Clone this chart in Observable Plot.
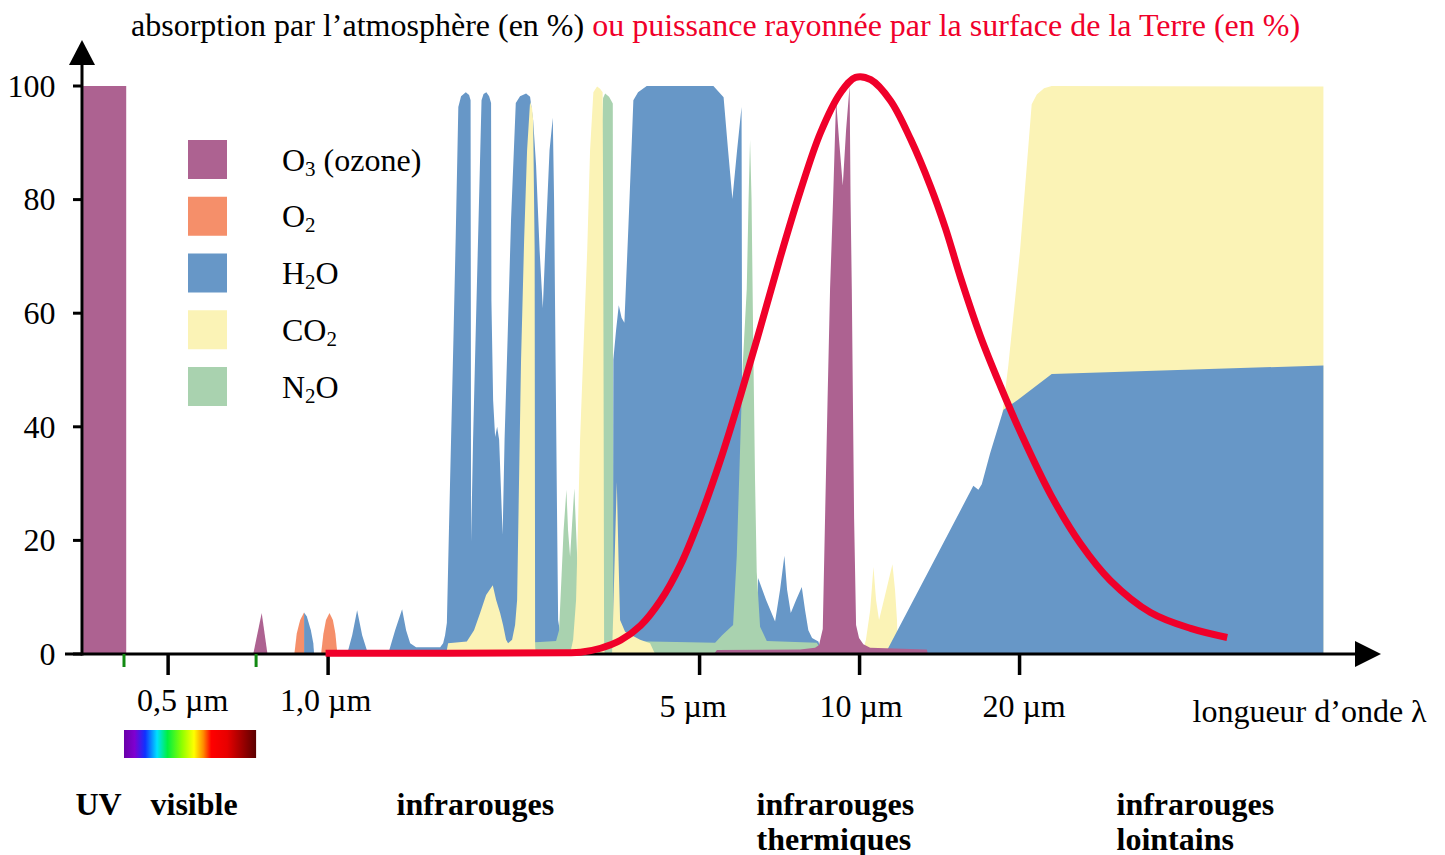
<!DOCTYPE html>
<html><head><meta charset="utf-8">
<script src="https://cdn.jsdelivr.net/npm/d3@7"></script>
<script src="https://cdn.jsdelivr.net/npm/@observablehq/plot@0.6"></script>
<style>html,body{margin:0;padding:0;background:#fff;} svg{display:block;}</style>
</head><body><div id="chart"></div>
<script>
// ---------- data (wavelength in µm, absorption / emitted power in %) ----------
const gasKeys = ["O3", "O2", "H2O", "CO2", "N2O"];
const gasLabels = ["O₃ (ozone)", "O₂", "H₂O", "CO₂", "N₂O"];
const gasColors = ["#ad6291", "#f58f6a", "#6797c7", "#fbf3b6", "#a9d2af"];

const yTickValues = [0, 20, 40, 60, 80, 100];
const xTickValues = [0.5, 1, 5, 10, 20];
const xTickLabels = ["0,5 µm", "1,0 µm", "5 µm", "10 µm", "20 µm"];
const visibleRange = [0.413, 0.732];
const regionLabels = ["UV", "visible", "infrarouges", "infrarouges\nthermiques", "infrarouges\nlointains"];
const titleParts = ["absorption par l’atmosphère (en %) ", "ou puissance rayonnée par la surface de la Terre (en %)"];
const axisLabel = "longueur d’onde λ";

const o3UV = [[0.346,100],[0.417,100]];
const o3Vis = [[0.723,0],[0.750,7.2],[0.769,0]];
const o3Band96 = [[5.324,0],[5.39,0.7],[7.727,0.8],[8.246,1.1],[8.390,1.6],[8.526,4.4],[8.611,23.9],[8.705,44.7],[8.800,64.3],[8.915,79.9],[9.032,97.5],[9.150,90.5],[9.298,82.5],[9.433,92.3],[9.577,100],[9.618,79.9],[9.669,64.3],[9.724,41.2],[9.766,23.9],[9.849,5.1],[9.977,2.8],[10.165,1.7],[10.47,1.1],[13.38,0.8],[13.45,0]];
const o2Band069 = [[0.864,0],[0.873,3.6],[0.886,6.0],[0.901,7.3]];
const o2Band076 = [[0.970,0],[0.980,3.6],[0.991,6.0],[1.006,7.2],[1.021,6.0],[1.032,3.6],[1.041,0]];
const h2oVis = [[0.901,7.3],[0.912,6.6],[0.928,4.2],[0.938,1.9],[0.941,0]];
const h2oBand11 = [[1.086,0],[1.110,3.3],[1.134,7.7],[1.159,3.3],[1.189,0]];
const h2oBandNIR = [[1.297,0],[1.337,4.2],[1.378,7.9],[1.402,4.2],[1.427,1.9],[1.464,1.2],[1.625,1.2],[1.646,1.9],[1.660,3.3],[1.673,5.5],[1.689,22.9],[1.704,38.2],[1.721,55.3],[1.738,73.2],[1.758,96.3],[1.779,98.2],[1.816,98.9],[1.842,98.4],[1.854,97.5],[1.856,62.3],[1.858,19.7],[1.874,37.7],[1.894,55.3],[1.919,76.4],[1.944,97.5],[1.961,98.6],[1.985,98.9],[2.009,98.2],[2.026,97.0],[2.029,62.3],[2.044,44.7],[2.062,38.2],[2.080,40.0],[2.098,37.7],[2.130,21.0],[2.148,37.7],[2.176,55.3],[2.209,76.4],[2.255,97.0],[2.297,98.2],[2.358,98.7],[2.399,98.1],[2.431,94.0],[2.462,86.1],[2.500,71.1],[2.535,60.9],[2.571,74.6],[2.610,88.7],[2.647,94.4],[2.662,79.9],[2.679,51.8],[2.697,23.6],[2.709,6.0],[2.732,3.7],[2.768,2.5],[2.804,0]];
const h2oBand6 = [[3.430,0],[3.437,27.1],[3.441,51.8],[3.482,57.0],[3.523,61.4],[3.566,59.2],[3.610,58.3],[3.673,75.2],[3.727,90.0],[3.753,97.5],[3.830,98.9],[3.977,100],[5.308,100],[5.548,98.0],[5.657,88.7],[5.764,80.1],[5.882,88.7],[5.997,96.3],[6.010,51.8],[6.023,16.5],[6.036,2.5],[6.063,0]];
const h2oBand8 = [[6.413,0],[6.442,13.4],[6.670,9.5],[6.935,5.7],[7.086,11.3],[7.220,17.3],[7.305,11.3],[7.423,7.2],[7.595,9.5],[7.785,11.8],[7.897,7.7],[8.010,4.2],[8.140,2.8],[8.365,2.2],[8.500,0]];
const h2oFarIR = [[11.17,0],[16.37,29.6],[16.73,28.9],[16.98,29.9],[17.60,35.3],[18.65,43.0],[19.62,44.4],[22.99,49.3],[74.6,50.8]];
const co2FarIR = [[18.46,40.5],[19.05,50.8],[20.04,71.0],[21.08,96.8],[21.55,98.5],[22.24,99.6],[22.99,100],[74.6,99.9]];
const co2Band10 = [[10.11,0],[10.28,2.5],[10.47,7.7],[10.62,15.3],[10.74,9.5],[10.88,6.0],[11.17,10.4],[11.53,15.8],[11.66,11.3],[11.76,6.0],[11.81,0]];
const co2Band2 = [[1.667,0],[1.682,1.9],[1.824,2.2],[1.882,4.2],[1.932,7.2],[1.983,10.4],[2.041,12.1],[2.071,9.5],[2.107,7.2],[2.134,5.1],[2.162,2.5],[2.181,1.9],[2.219,2.5],[2.248,5.1],[2.268,9.5],[2.287,30.6],[2.307,51.8],[2.338,72.9],[2.368,88.7],[2.399,97.2],[2.420,96.1],[2.431,94.0],[2.447,71.1],[2.452,1.6],[2.457,0]];
const co2Band43 = [[2.853,0],[2.891,2.5],[2.928,9.5],[2.954,23.6],[2.979,37.7],[3.018,51.8],[3.073,71.1],[3.111,88.7],[3.156,98.9],[3.207,99.9],[3.249,99.5],[3.285,98.9],[3.292,79.9],[3.299,44.7],[3.306,2.5],[3.314,0]];
const co2Band47 = [[3.422,0],[3.437,6.0],[3.460,16.5],[3.493,30.3],[3.520,16.5],[3.543,6.0],[3.621,3.9],[3.864,2.5],[4.035,1.9],[4.123,0]];
const n2oBands = [[2.089,0],[2.124,1.6],[2.200,1.9],[2.505,2.1],[2.685,2.3],[2.720,4.2],[2.750,13.9],[2.774,21.8],[2.808,28.9],[2.828,21.8],[2.853,17.1],[2.877,22.7],[2.906,29.2],[2.928,21.8],[2.954,13.0],[3.111,9.5],[3.221,44.7],[3.256,88.7],[3.292,97.9],[3.321,98.7],[3.378,98.1],[3.433,96.9],[3.437,51.8],[3.441,9.5],[3.452,2.2],[4.035,2.2],[5.348,2.0],[5.512,3.3],[5.781,5.1],[5.874,17.3],[5.958,35.9],[6.028,50.9],[6.134,64.3],[6.182,79.9],[6.222,90.5],[6.263,79.9],[6.303,57.6],[6.358,30.6],[6.405,14.4],[6.498,4.8],[6.690,2.3],[8.307,2.0],[8.427,1.1],[8.500,0]];
const earthEmission = [[0.987,0.2],[2.792,0.3],[2.979,0.4],[3.249,1.1],[3.543,2.5],[3.864,5.1],[4.213,9.5],[4.595,15.8],[5.011,24.3],[5.464,34.3],[5.958,45.6],[6.498,57.7],[7.086,70.1],[7.727,81.7],[8.427,91.9],[9.190,98.9],[9.807,101.6],[10.47,101.2],[11.41,97.5],[12.45,90.7],[13.57,82.4],[14.48,75.0],[15.45,66.4],[16.85,56.0],[18.38,47.2],[20.04,39.1],[22.82,28.2],[25.99,19.5],[29.60,13.0],[35.20,7.4],[41.87,4.6],[49.07,3.0]];

// drawing order (back to front)
const layers = [
  ["CO2", co2FarIR], ["CO2", co2Band10],
  ["H2O", h2oVis], ["H2O", h2oBand11], ["H2O", h2oBandNIR], ["H2O", h2oBand6], ["H2O", h2oBand8], ["H2O", h2oFarIR],
  ["N2O", n2oBands],
  ["CO2", co2Band2], ["CO2", co2Band43], ["CO2", co2Band47],
  ["O3", o3UV], ["O3", o3Vis], ["O3", o3Band96],
  ["O2", o2Band069], ["O2", o2Band076]
];

// ---------- drawing ----------
const FONT = "'Liberation Serif', 'Times New Roman', serif";
const RED = "#f0002a";
const colorOf = Object.fromEntries(gasKeys.map((k, i) => [k, gasColors[i]]));
const SUB = "₀₁₂₃₄₅₆₇₈₉";

function appendRich(textSel, label, subSize, shift) {
  let inSub = false, buf = "", n = 0;
  const flush = () => {
    if (!buf) return;
    const t = textSel.append("tspan").text(buf);
    if (inSub) t.attr("font-size", subSize).attr("dy", shift);
    else if (n > 0) t.attr("dy", -shift);
    n++;
    buf = "";
  };
  for (const ch of label) {
    const k = SUB.indexOf(ch);
    const isSub = k >= 0;
    if (isSub !== inSub) { flush(); inSub = isSub; }
    buf += isSub ? String(k) : ch;
  }
  flush();
}

function axesMark(index, scales, values, dims) {
  const {x, y} = scales;
  const left = dims.marginLeft, right = dims.width - dims.marginRight;
  const top = dims.marginTop, bottom = dims.height - dims.marginBottom;
  const g = d3.create("svg:g");
  const defs = g.append("defs");
  const grad = defs.append("linearGradient").attr("id", "spectrum").attr("x1", 0).attr("x2", 1).attr("y1", 0).attr("y2", 0);
  [[0,"#6a00a8"],[0.08,"#8000d0"],[0.16,"#1030ff"],[0.25,"#00e0ff"],[0.33,"#00f040"],[0.44,"#90ff00"],[0.53,"#ffff00"],[0.6,"#ff8c00"],[0.66,"#ff0000"],[0.78,"#e80000"],[1,"#5a0000"]]
    .forEach(([o, c]) => grad.append("stop").attr("offset", o).attr("stop-color", c));
  g.append("line").attr("x1", left - 17).attr("x2", right - 24).attr("y1", y(0)).attr("y2", y(0)).attr("stroke", "#000").attr("stroke-width", 3);
  g.append("polygon").attr("points", `${right - 25},${y(0) - 13} ${right + 1},${y(0)} ${right - 25},${y(0) + 13}`).attr("fill", "#000");
  g.append("line").attr("x1", left).attr("x2", left).attr("y1", y(0) + 1.5).attr("y2", top - 22).attr("stroke", "#000").attr("stroke-width", 3);
  g.append("polygon").attr("points", `${left - 13},${top - 21} ${left},${top - 46} ${left + 13},${top - 21}`).attr("fill", "#000");
  yTickValues.forEach(v => g.append("line").attr("x1", left - 9).attr("x2", left).attr("y1", y(v)).attr("y2", y(v)).attr("stroke", "#000").attr("stroke-width", 3));
  xTickValues.forEach(v => g.append("line").attr("x1", x(v)).attr("x2", x(v)).attr("y1", bottom).attr("y2", bottom + 21).attr("stroke", "#000").attr("stroke-width", 3.5));
  visibleRange.forEach(v => g.append("line").attr("x1", x(v)).attr("x2", x(v)).attr("y1", bottom).attr("y2", bottom + 13).attr("stroke", "#128a12").attr("stroke-width", 3));
  g.append("rect").attr("x", x(visibleRange[0])).attr("width", x(visibleRange[1]) - x(visibleRange[0]))
    .attr("y", bottom + 76).attr("height", 28).attr("fill", "url(#spectrum)");
  return g.node();
}

function legendMark(index, scales, values, dims) {
  const g = d3.create("svg:g");
  gasKeys.forEach((k, i) => {
    const top = dims.marginTop + 54 + i * 56.75;
    g.append("rect").attr("x", dims.marginLeft + 106).attr("y", top).attr("width", 39).attr("height", 39).attr("fill", colorOf[k]);
    const t = g.append("text").attr("x", dims.marginLeft + 200).attr("y", top + 30.5)
      .attr("text-anchor", "start").attr("font-size", 32).attr("font-family", FONT).attr("fill", "#000");
    appendRich(t, gasLabels[i], 21, 5);
  });
  return g.node();
}

function titleMark(index, scales, values, dims) {
  const t = d3.create("svg:text").attr("x", dims.marginLeft + 49).attr("y", dims.marginTop - 50)
    .attr("text-anchor", "start").attr("font-size", 32).attr("font-family", FONT);
  t.append("tspan").attr("fill", "#000").text(titleParts[0].trimEnd());
  t.append("tspan").attr("fill", RED).attr("dx", 8).text(titleParts[1]);
  return t.node();
}

const textBase = {fontSize: 32, fontFamily: FONT, fill: "#000"};
const tickShift = [14, -3, -7, 1, 4];
const tickDy = [56, 56, 62, 62, 62];
const regionDx = [-7, 68, 314, 674, 1034];

const marks = [
  ...layers.map(([gas, pts]) => Plot.areaY(pts, {x: d => d[0], y1: d => 0, y2: d => d[1], fill: colorOf[gas], curve: "linear"})),
  axesMark,
  Plot.line(earthEmission, {x: d => d[0], y: d => d[1], stroke: RED, strokeWidth: 7, curve: "catmull-rom", strokeLinecap: "butt", strokeLinejoin: "round"}),
  Plot.text(yTickValues, {...textBase, y: d => d, frameAnchor: "left", dx: -27, textAnchor: "end", lineAnchor: "middle", text: d => String(d)}),
  ...xTickValues.map((v, i) => Plot.text([v], {...textBase, x: d => d, frameAnchor: "bottom", dx: tickShift[i], dy: tickDy[i], lineAnchor: "bottom", textAnchor: "middle", text: () => xTickLabels[i]})),
  Plot.text([axisLabel], {...textBase, frameAnchor: "bottom-right", dx: -188, dy: 67, textAnchor: "start", lineAnchor: "bottom", text: d => d}),
  ...regionLabels.map((lab, i) => Plot.text([lab], {...textBase, frameAnchor: "bottom-left", dx: regionDx[i], dy: 135, textAnchor: "start", lineAnchor: "top", lineHeight: 1.1, fontWeight: "bold", text: d => d})),
  legendMark,
  titleMark
];

const chart = Plot.plot({
  width: 1445,
  height: 855,
  marginLeft: 82,
  marginRight: 65,
  marginTop: 86,
  marginBottom: 201,
  style: {background: "#fff", fontFamily: FONT, overflow: "visible"},
  x: {type: "log", domain: [0.3443, 95.33], axis: null},
  y: {domain: [0, 100], axis: null},
  marks
});
document.getElementById("chart").appendChild(chart);
</script>
</body></html>
